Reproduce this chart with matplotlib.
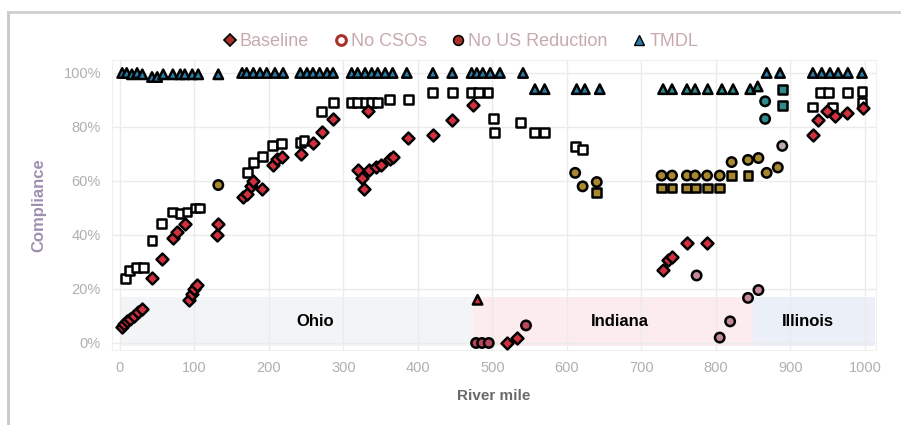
import matplotlib
matplotlib.use("Agg")
import matplotlib.pyplot as plt
from matplotlib.lines import Line2D
from matplotlib.patches import Rectangle
import numpy as np

plt.rcParams['font.family'] = ['Liberation Sans', 'DejaVu Sans']

# ---------------- data ----------------
regions = ["Ohio", "Indiana", "Illinois"]
region_start = [0, 474, 850]
region_end = [474, 850, 1013]
region_label_mile = [262, 671, 923]

baseline_mile = [3, 6, 10, 14, 19, 24, 29, 43, 56, 71, 77, 87, 93, 97, 100, 103,
                 130, 132, 165, 170, 176, 179, 191, 205, 211, 217, 243, 259, 271, 286,
                 320, 325, 328, 334, 343, 350, 362, 367, 333, 387, 420, 446, 474,
                 520, 533, 729, 736, 741, 761, 788, 930, 937, 949, 960, 976, 997]
baseline_pct = [6, 7, 8, 9, 10, 11.5, 12.5, 24, 31, 39, 41, 44, 16, 18, 20, 21.5,
                40, 44, 54, 55, 58, 60, 57, 66, 68, 69, 70, 74, 78, 83,
                64, 61, 57, 64, 65, 66, 68, 69, 86, 76, 77, 82.5, 88,
                0, 2, 27, 30.7, 32, 37, 37, 77, 82.6, 86, 84, 85, 87]

nocso_mile = [7, 13, 22, 31, 43, 56, 71, 81, 90, 101, 107, 171, 179, 191, 205, 217,
              242, 247, 271, 286, 311, 319, 329, 338, 346, 362, 387, 420, 446, 472,
              481, 494, 501, 503, 537, 557, 570, 611, 621, 640,
              727, 741, 761, 772, 788, 805, 821, 843, 889, 889,
              930, 940, 951, 957, 976, 996, 996]
nocso_pct = [24, 27, 28, 28, 38, 44.4, 48.5, 48, 48.5, 50, 50, 63, 66.7, 69, 73, 74,
             74.4, 75, 85.6, 89, 89, 89, 89, 89, 89, 90, 90, 92.6, 92.6, 92.6,
             92.6, 92.6, 83, 78, 81.5, 77.8, 78, 72.6, 71.5, 55.6,
             57.4, 57.4, 57.4, 57.4, 57.4, 57.4, 62, 62, 94, 88,
             87.4, 92.6, 92.6, 87.4, 92.6, 93, 89]

nous_mile = [132, 478, 486, 495, 545, 611, 621, 640, 727, 741, 761, 772, 788, 805,
             821, 843, 857, 868, 883, 889, 774, 843, 857, 805, 819, 866, 866]
nous_pct = [58.5, 0, 0, 0, 6.5, 63, 58, 59.6, 62, 62, 62, 62, 62, 62,
            67, 67.8, 68.5, 63, 65, 73, 25, 16.7, 19.6, 2, 8, 89.5, 83]

tmdl_mile = [3, 9, 16, 23, 30, 43, 50, 58, 71, 81, 87, 97, 105, 132,
             164, 170, 179, 188, 197, 208, 219, 242, 251, 259, 268, 278, 286,
             311, 319, 329, 338, 346, 356, 366, 385, 420, 446, 472, 479, 487, 497,
             510, 541, 557, 570, 613, 624, 644, 480,
             729, 741, 761, 772, 789, 808, 823, 846, 856, 868, 886,
             930, 942, 953, 964, 977, 996]
tmdl_pct = [100, 100, 99.5, 100, 99.5, 98.5, 98.5, 99.5, 99.5, 99.5, 99.5, 99.5, 99.5, 99.5,
            100, 100, 100, 100, 100, 100, 100, 100, 100, 100, 100, 100, 100,
            100, 100, 100, 100, 100, 100, 100, 100, 100, 100, 100, 100, 100, 100,
            100, 100, 94, 94, 94, 94, 94, 16,
            94, 94, 94, 94, 94, 94, 94, 94, 95, 100, 100,
            100, 100, 100, 100, 100, 100]

x_ticks = [0, 100, 200, 300, 400, 500, 600, 700, 800, 900, 1000]
y_ticks = [0, 20, 40, 60, 80, 100]
y_ticklabels = ["0%", "20%", "40%", "60%", "80%", "100%"]
legend_names = ["Baseline", "No CSOs", "No US Reduction", "TMDL"]

# ---------------- colours ----------------
RED = "#d2303e"
GOLD = "#a8882e"
BLUE = "#2a7ca6"
TEAL = "#2f8a8c"
MAUVE = "#c48a9a"
band_colors = ["#f3f4f6", "#fdecee", "#ebeff8"]


def nous_color(m, p):
    if p < 10 and m < 600:
        return "#b8485c"
    if p < 40:
        return MAUVE
    if p > 80:
        return TEAL
    if m > 885:
        return "#b9a9b0"
    return GOLD


def nocso_color(m, p):
    if 600 < m < 860 and p < 70:
        return GOLD
    if 860 < m < 900:
        return TEAL
    return "white"


def tmdl_color(m, p):
    if p < 50:
        return RED
    if 700 < m < 860 and p < 97:
        return TEAL
    return BLUE


# ---------------- figure ----------------
fig = plt.figure(figsize=(9.01, 4.25), dpi=100)
ax = fig.add_axes([112 / 901, 75 / 425, 764 / 901, 290 / 425])
ax.set_xlim(-10.7, 1014.8)
ax.set_ylim(-2.6, 104.8)

for name, s, e, lm, c in zip(regions, region_start, region_end, region_label_mile, band_colors):
    ax.add_patch(Rectangle((s, -1), e - s, 18, facecolor=c, edgecolor="none", zorder=0))
    ax.text(lm, 8, name, fontsize=12, fontweight="bold", color="black",
            ha="center", va="center", zorder=5)

ax.set_xticks(x_ticks)
ax.set_yticks(y_ticks)
ax.set_yticklabels(y_ticklabels)
ax.grid(True, color="#ebebeb", linewidth=1.0, zorder=0)
ax.set_axisbelow(True)
ax.tick_params(length=0, colors="#b0b0b0", labelsize=10.5, pad=8)
for sp in ax.spines.values():
    sp.set_color("#f0f0f0")

ms = 46
lw = 1.8
ax.scatter(nous_mile, nous_pct, marker="o", s=ms,
           c=[nous_color(m, p) for m, p in zip(nous_mile, nous_pct)],
           edgecolors="black", linewidths=lw, zorder=3)
ax.scatter(nocso_mile, nocso_pct, marker="s", s=ms * 0.9,
           c=[nocso_color(m, p) for m, p in zip(nocso_mile, nocso_pct)],
           edgecolors="black", linewidths=lw, zorder=3)
ax.scatter(baseline_mile, baseline_pct, marker="D", s=ms * 0.8, c=RED,
           edgecolors="black", linewidths=lw, zorder=4)
ax.scatter(tmdl_mile, tmdl_pct, marker="^", s=ms,
           c=[tmdl_color(m, p) for m, p in zip(tmdl_mile, tmdl_pct)],
           edgecolors="black", linewidths=lw, zorder=4)

ax.set_xlabel("River mile", fontsize=11, fontweight="bold", color="#6a6a6a", labelpad=10)
ax.set_ylabel("Compliance", fontsize=12, fontweight="bold", color="#a090b0", labelpad=12)

handles = [
    Line2D([], [], marker="D", linestyle="none", markersize=6, markerfacecolor="#a8322a",
           markeredgecolor="black", markeredgewidth=1.2),
    Line2D([], [], marker="o", linestyle="none", markersize=7, markerfacecolor="white",
           markeredgecolor="#a8322a", markeredgewidth=2.2),
    Line2D([], [], marker="o", linestyle="none", markersize=7, markerfacecolor="#a8322a",
           markeredgecolor="black", markeredgewidth=1.2),
    Line2D([], [], marker="^", linestyle="none", markersize=7, markerfacecolor=BLUE,
           markeredgecolor="black", markeredgewidth=1.0),
]
leg = fig.legend(handles, legend_names, loc="center", bbox_to_anchor=(460 / 901, 1 - 42 / 425),
                 ncol=4, frameon=False, fontsize=13, handletextpad=0.1, columnspacing=1.3,
                 handlelength=0.9)
for t in leg.get_texts():
    t.set_color("#c8aaae")

# panel frame lines of the screenshot
fig.add_artist(Line2D([8 / 901, 8 / 901], [0, 1 - 12 / 425], color="#c8c8c8", linewidth=2,
                      transform=fig.transFigure))
fig.add_artist(Line2D([8 / 901, 1], [1 - 12 / 425, 1 - 12 / 425], color="#cfcfcf", linewidth=2,
                      transform=fig.transFigure))

fig.savefig("out.png", dpi=100)
